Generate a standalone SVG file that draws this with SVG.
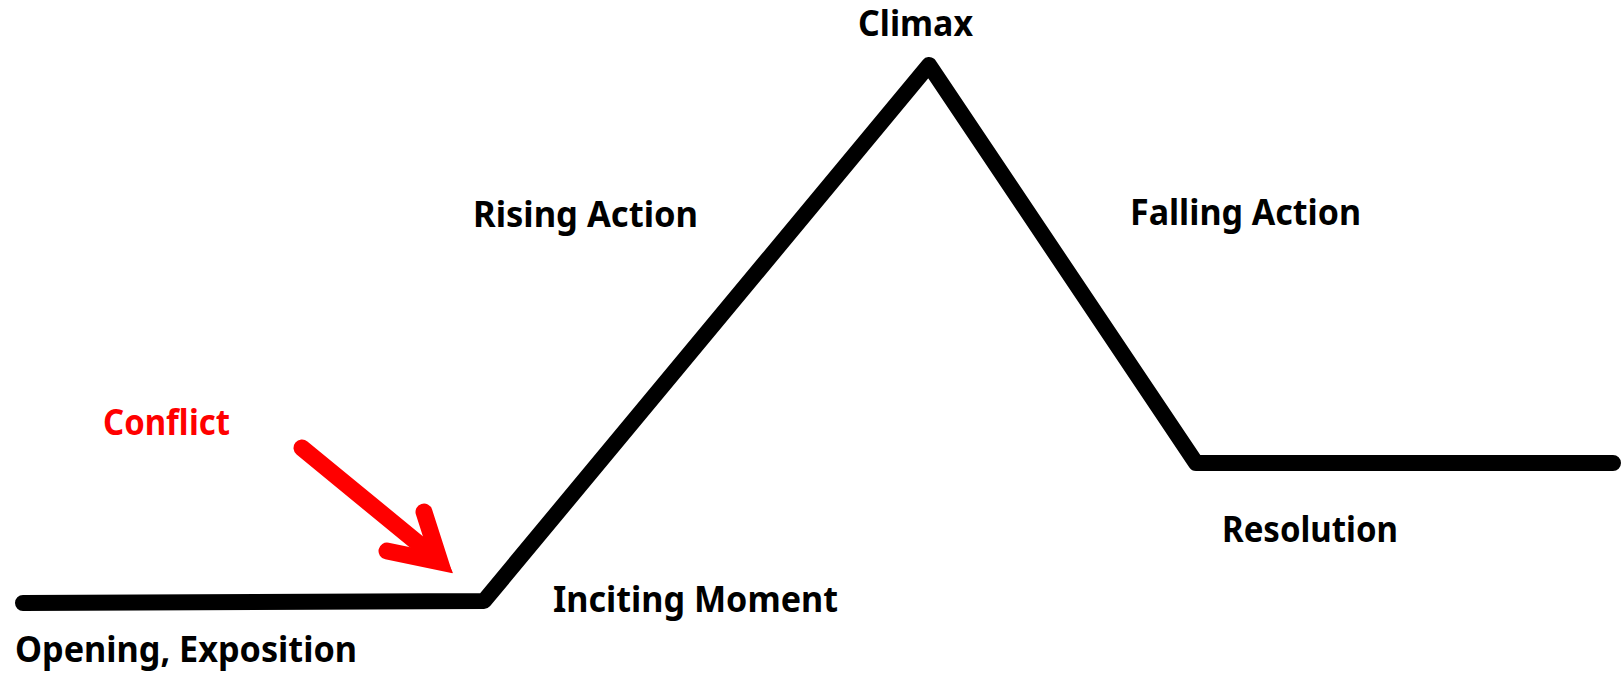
<svg xmlns="http://www.w3.org/2000/svg" width="1621" height="673" viewBox="0 0 1621 673">
<style>
.lbl{font-family:"Noto Sans","Liberation Sans",sans-serif;font-weight:bold;font-size:35px;fill:#000}
.red{fill:#ff0000}
.plot{fill:none;stroke:#000;stroke-width:16;stroke-linecap:round;stroke-linejoin:round}
.arr{fill:none;stroke:#ff0000;stroke-width:17;stroke-linecap:round}
</style>
<rect width="1621" height="673" fill="#fff"/>
<g id="connectors">
<polyline class="plot" points="23,603 484,601 929,65 1196,463 1613,463"/>
<g id="conflict-arrow">
<line class="arr" x1="302" y1="448" x2="436" y2="558"/>
<path class="arr" d="M387,551 L440,562 L424,512" style="stroke-linejoin:miter;stroke-miterlimit:10"/>
<polygon points="424,512 453,573 387,551 430,548" fill="#ff0000"/>
</g>
</g>
<g id="climax"><text class="lbl" x="858" y="36" textLength="115" lengthAdjust="spacingAndGlyphs">Climax</text></g>
<g id="rising"><text class="lbl" x="473" y="227" textLength="225" lengthAdjust="spacingAndGlyphs">Rising Action</text></g>
<g id="falling"><text class="lbl" x="1130" y="225" textLength="231" lengthAdjust="spacingAndGlyphs">Falling Action</text></g>
<g id="conflict"><text class="lbl red" x="103" y="435" textLength="127" lengthAdjust="spacingAndGlyphs">Conflict</text></g>
<g id="inciting"><text class="lbl" x="553" y="612" textLength="285" lengthAdjust="spacingAndGlyphs">Inciting Moment</text></g>
<g id="resolution"><text class="lbl" x="1222" y="542" textLength="176" lengthAdjust="spacingAndGlyphs">Resolution</text></g>
<g id="opening"><text class="lbl" x="15" y="662" textLength="342" lengthAdjust="spacingAndGlyphs">Opening, Exposition</text></g>
</svg>
